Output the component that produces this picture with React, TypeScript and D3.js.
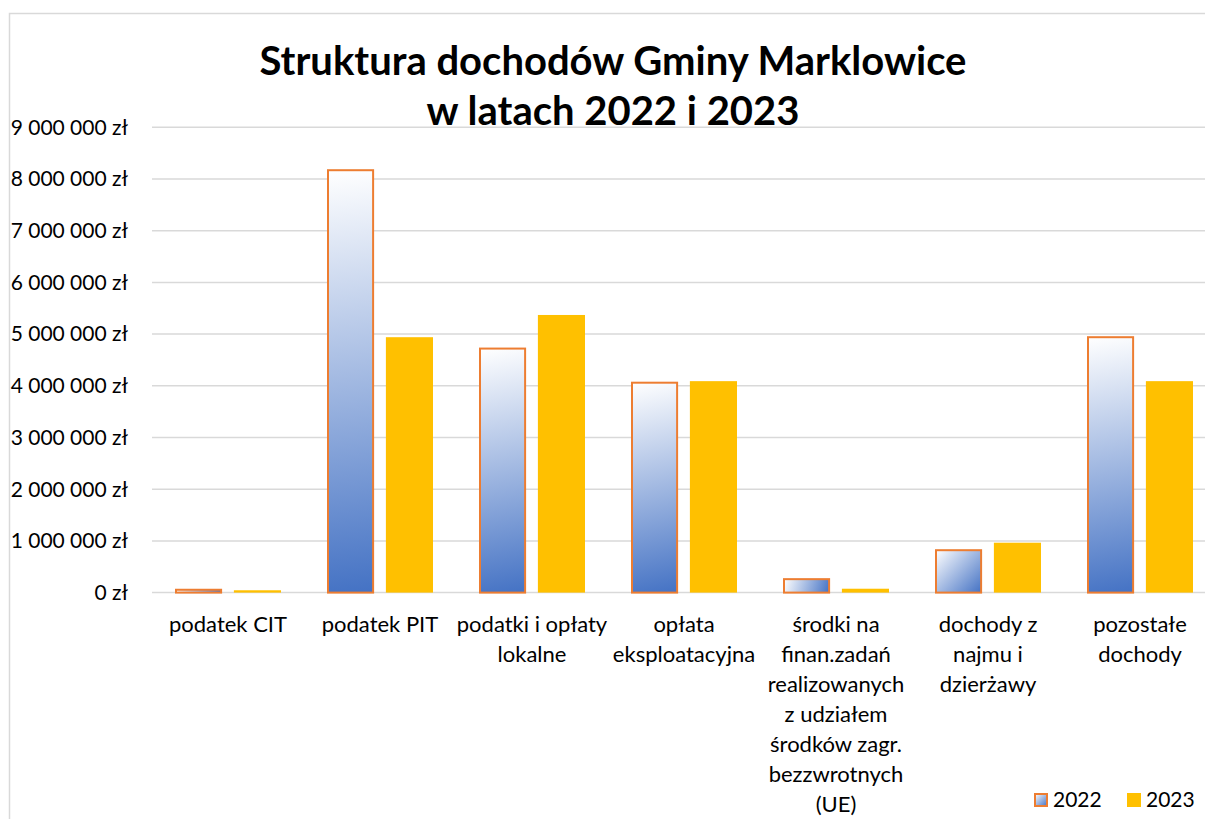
import React, { useEffect, useRef } from 'react'
import * as d3 from 'd3'

// chart data
const categories = [
  'podatek CIT',
  'podatek PIT',
  'podatki i opłaty\nlokalne',
  'opłata\neksploatacyjna',
  'środki na\nfinan.zadań\nrealizowanych\nz udziałem\nśrodków zagr.\nbezzwrotnych\n(UE)',
  'dochody z\nnajmu i\ndzierżawy',
  'pozostałe\ndochody',
]
const values2022 = [55000, 8170000, 4720000, 4060000, 260000, 820000, 4940000]
const values2023 = [45000, 4940000, 5370000, 4090000, 75000, 965000, 4090000]
const seriesNames = ['2022', '2023']
const yTicks = [0, 1000000, 2000000, 3000000, 4000000, 5000000, 6000000, 7000000, 8000000, 9000000]
const titleLines = ['Struktura dochodów Gminy Marklowice', 'w latach 2022 i 2023']

const FONT = 'Lato, "Open Sans", sans-serif'

export default function App() {
  const ref = useRef<SVGSVGElement>(null)

  useEffect(() => {
    const svg = d3.select(ref.current)
    svg.selectAll('*').remove()

    const width = 1205
    const height = 819
    const left = 152
    const right = 1216
    const top = 127.3
    const bottom = 592.6

    const pl = d3.formatLocale({ decimal: ',', thousands: ' ', grouping: [3], currency: ['', ' zł'] })
    const fmt = pl.format('$,')

    const y = d3.scaleLinear().domain([0, 9000000]).range([bottom, top])
    const x0 = d3.scaleBand().domain(categories).range([left, right]).padding(0)
    const x1 = d3.scaleBand().domain(seriesNames).range([23, 129]).paddingInner(0.2).paddingOuter(0)

    const defs = svg.append('defs')
    // corner-to-corner gradient, like Excel's diagonal fill
    const addGradient = (id: string, x: number, yy: number, w: number, h: number) => {
      const g = defs.append('linearGradient')
        .attr('id', id)
        .attr('gradientUnits', 'userSpaceOnUse')
        .attr('x1', x).attr('y1', yy)
        .attr('x2', x + w).attr('y2', yy + h)
      g.append('stop').attr('offset', '0%').attr('stop-color', '#ffffff')
      g.append('stop').attr('offset', '100%').attr('stop-color', '#4472c4')
    }

    // chart border
    svg.append('rect')
      .attr('x', 9.5).attr('y', 13.5)
      .attr('width', width + 20).attr('height', height + 20)
      .attr('fill', '#fff').attr('stroke', '#d9d9d9').attr('stroke-width', 1.5)

    // title
    svg.append('g').selectAll('text')
      .data(titleLines)
      .join('text')
      .attr('x', 613)
      .attr('y', (d, i) => 75 + i * 50)
      .attr('text-anchor', 'middle')
      .attr('font-family', FONT)
      .attr('font-weight', 'bold')
      .attr('font-size', 40)
      .attr('fill', '#000')
      .text(d => d)

    // grid + y labels
    const grid = svg.append('g')
    grid.selectAll('line')
      .data(yTicks)
      .join('line')
      .attr('x1', left).attr('x2', width)
      .attr('y1', d => y(d)).attr('y2', d => y(d))
      .attr('stroke', '#d9d9d9').attr('stroke-width', 1.5)
    grid.selectAll('text')
      .data(yTicks)
      .join('text')
      .attr('x', 128)
      .attr('y', d => y(d))
      .attr('dy', '0.35em')
      .attr('text-anchor', 'end')
      .attr('font-family', FONT)
      .attr('font-size', 21)
      .attr('fill', '#000')
      .text(d => fmt(d))

    // bars
    const bw = x1.bandwidth()
    categories.forEach((c, i) => {
      const bx = x0(c)! + x1('2022')! + 1
      const by = y(values2022[i])
      addGradient(`g2022-${i}`, bx, by, bw - 2, y(0) - by)
    })

    const groups = svg.append('g').selectAll('g')
      .data(categories)
      .join('g')
      .attr('transform', d => `translate(${x0(d)},0)`)

    svg.selectAll('g.bars2022')
      .data(categories)
      .join('rect')
      .attr('x', d => x0(d)! + x1('2022')! + 1)
      .attr('width', bw - 2)
      .attr('y', (d, i) => y(values2022[i]))
      .attr('height', (d, i) => y(0) - y(values2022[i]))
      .attr('fill', (d, i) => `url(#g2022-${i})`)
      .attr('stroke', '#ed7d31')
      .attr('stroke-width', 2)

    groups.append('rect')
      .attr('x', x1('2023')!)
      .attr('width', bw)
      .attr('y', (d, i) => y(values2023[i]))
      .attr('height', (d, i) => y(0) - y(values2023[i]))
      .attr('fill', '#ffc000')

    // category labels
    groups.append('text')
      .attr('text-anchor', 'middle')
      .attr('font-family', FONT)
      .attr('font-size', 22)
      .attr('fill', '#000')
      .selectAll('tspan')
      .data(d => d.split('\n'))
      .join('tspan')
      .attr('x', x0.bandwidth() / 2)
      .attr('y', (d, i) => 632 + i * 30)
      .text(d => d)

    // legend
    const legend = svg.append('g')
    const lx = [1034, 1127]
    addGradient('g2022-legend', lx[0] + 1, 794, 12, 12)
    legend.append('rect')
      .attr('x', lx[0] + 1).attr('y', 794).attr('width', 12).attr('height', 12)
      .attr('fill', 'url(#g2022-legend)').attr('stroke', '#ed7d31').attr('stroke-width', 2)
    legend.append('rect')
      .attr('x', lx[1]).attr('y', 793).attr('width', 14).attr('height', 14)
      .attr('fill', '#ffc000')
    legend.selectAll('text')
      .data(seriesNames)
      .join('text')
      .attr('x', (d, i) => lx[i] + 19)
      .attr('y', 800)
      .attr('dy', '0.35em')
      .attr('font-family', FONT)
      .attr('font-size', 21)
      .attr('fill', '#000')
      .text(d => d)
  }, [])

  return (
    <svg
      ref={ref}
      width={1205}
      height={819}
      style={{ position: 'absolute', left: 0, top: 0, background: '#fff' }}
    />
  )
}
